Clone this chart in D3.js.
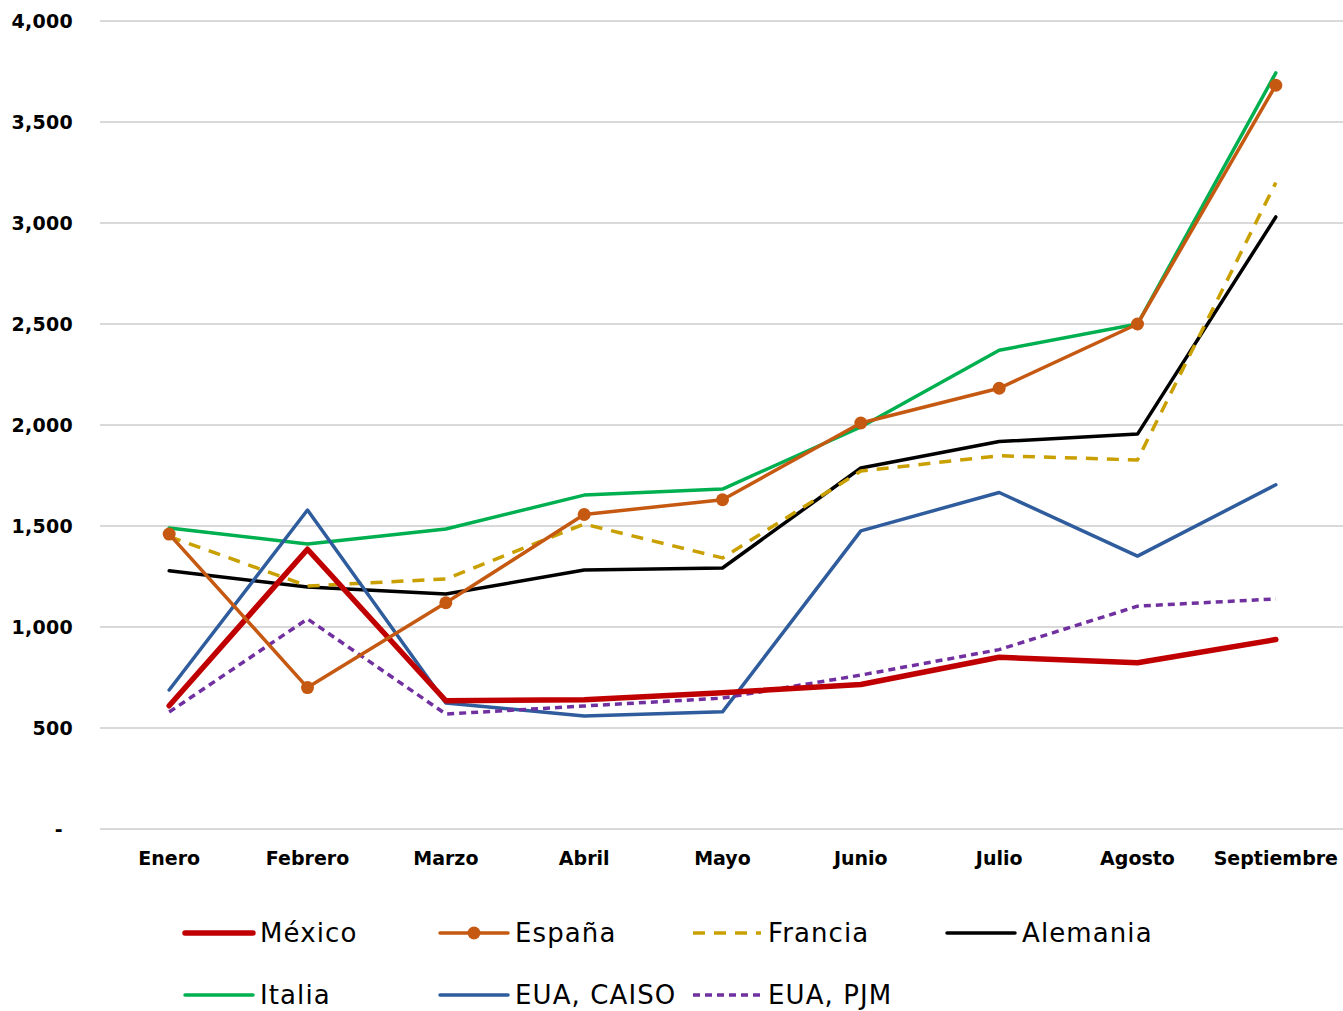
<!DOCTYPE html>
<html>
<head>
<meta charset="utf-8">
<script src="https://cdn.jsdelivr.net/npm/d3@7"></script>
<style>
  body { margin: 0; background: #fff; }
  svg { font-family: 'DejaVu Sans', 'Open Sans', sans-serif; }
</style>
</head>
<body>
<div id="chart"></div>
<script>
// data
var months = ['Enero', 'Febrero', 'Marzo', 'Abril', 'Mayo', 'Junio', 'Julio', 'Agosto', 'Septiembre'];
var yTicks = [0, 500, 1000, 1500, 2000, 2500, 3000, 3500, 4000];

var mexico = [610, 1385, 635, 640, 675, 715, 850, 823, 938];
var espana = [1460, 700, 1120, 1557, 1630, 2010, 2182, 2500, 3682];
var francia = [1448, 1203, 1238, 1510, 1342, 1772, 1848, 1827, 3200];
var alemania = [1278, 1198, 1163, 1282, 1292, 1787, 1918, 1955, 3030];
var italia = [1490, 1411, 1485, 1653, 1683, 1990, 2370, 2500, 3743];
var caiso = [688, 1579, 624, 559, 580, 1476, 1666, 1351, 1704];
var pjm = [579, 1040, 569, 609, 648, 762, 888, 1103, 1139];

// series drawn in this order (bottom to top)
var series = [
  { name: 'Italia', values: italia, color: '#00b050', width: 3.5, dash: null },
  { name: 'Alemania', values: alemania, color: '#000000', width: 3.5, dash: null },
  { name: 'Francia', values: francia, color: '#c9a000', width: 3.5, dash: '12,9' },
  { name: 'EUA, CAISO', values: caiso, color: '#2f5c9c', width: 3.5, dash: null },
  { name: 'EUA, PJM', values: pjm, color: '#7030a0', width: 3.5, dash: '7,5' },
  { name: 'México', values: mexico, color: '#c00000', width: 5.5, dash: null },
  { name: 'España', values: espana, color: '#c65911', width: 3.5, dash: null, marker: true }
];
var legendOrder = ['México', 'España', 'Francia', 'Alemania', 'Italia', 'EUA, CAISO', 'EUA, PJM'];

var W = 1343, H = 1011;
var plot = { left: 100, right: 1345, top: 21, bottom: 829 };
var font = "'DejaVu Sans', 'Open Sans', sans-serif";

d3.select('#chart').html('');
var svg = d3.select('#chart').append('svg').attr('width', W).attr('height', H);

var x = d3.scaleBand().domain(months).range([plot.left, plot.right]);
var y = d3.scaleLinear().domain([0, 4000]).range([plot.bottom, plot.top]);

// gridlines
svg.append('g')
  .selectAll('line')
  .data(yTicks)
  .join('line')
  .attr('x1', plot.left)
  .attr('x2', W)
  .attr('y1', d => y(d))
  .attr('y2', d => y(d))
  .attr('stroke', '#d9d9d9')
  .attr('stroke-width', 2);

// y axis labels
var yAxis = svg.append('g')
  .attr('transform', 'translate(' + (plot.left - 24) + ',0)')
  .call(d3.axisLeft(y).tickValues(yTicks).tickSize(0)
    .tickFormat(d => d === 0 ? '-' : d3.format(',')(d)));
yAxis.attr('font-family', null);
yAxis.select('.domain').remove();
yAxis.selectAll('text')
  .attr('dx', d => d === 0 ? -10 : 0)
  .style('font-family', font)
  .style('font-size', '19px')
  .style('font-weight', 'bold')
  .style('letter-spacing', '0.3px')
  .attr('fill', '#000');

// x axis labels
var xAxis = svg.append('g')
  .attr('transform', 'translate(0,' + (plot.bottom + 19) + ')')
  .call(d3.axisBottom(x).tickSize(0));
xAxis.attr('font-family', null);
xAxis.select('.domain').remove();
xAxis.selectAll('text')
  .style('font-family', font)
  .style('font-size', '19px')
  .style('font-weight', 'bold')
  .attr('fill', '#000');

var cx = d => x(d) + x.bandwidth() / 2;
var line = d3.line()
  .x((d, i) => cx(months[i]))
  .y(d => y(d));

series.forEach(function(s) {
  svg.append('path')
    .datum(s.values)
    .attr('d', line)
    .attr('fill', 'none')
    .attr('stroke', s.color)
    .attr('stroke-width', s.width)
    .attr('stroke-dasharray', s.dash)
    .attr('stroke-linejoin', 'round')
    .attr('stroke-linecap', s.dash ? 'butt' : 'round');
  if (s.marker) {
    svg.append('g')
      .selectAll('circle')
      .data(s.values)
      .join('circle')
      .attr('cx', (d, i) => cx(months[i]))
      .attr('cy', d => y(d))
      .attr('r', 6.5)
      .attr('fill', s.color);
  }
});

// legend
var legendX = [185, 440, 693, 947];
var legendY = [933, 995];
var legend = svg.append('g');
legendOrder.forEach(function(name, i) {
  var s = series.find(d => d.name === name);
  var lx = legendX[i % 4], ly = legendY[Math.floor(i / 4)];
  var g = legend.append('g').attr('transform', 'translate(' + lx + ',' + ly + ')');
  g.append('line')
    .attr('x1', 0).attr('x2', 68)
    .attr('stroke', s.color)
    .attr('stroke-width', s.width)
    .attr('stroke-dasharray', s.dash)
    .attr('stroke-linecap', s.dash ? 'butt' : 'round');
  if (s.marker) {
    g.append('circle').attr('cx', 34).attr('r', 6.5).attr('fill', s.color);
  }
  g.append('text')
    .attr('x', 75)
    .attr('dy', '0.35em')
    .style('font-size', '26px')
    .style('letter-spacing', '1.1px')
    .attr('fill', '#000')
    .text(name);
});
</script>
</body>
</html>
